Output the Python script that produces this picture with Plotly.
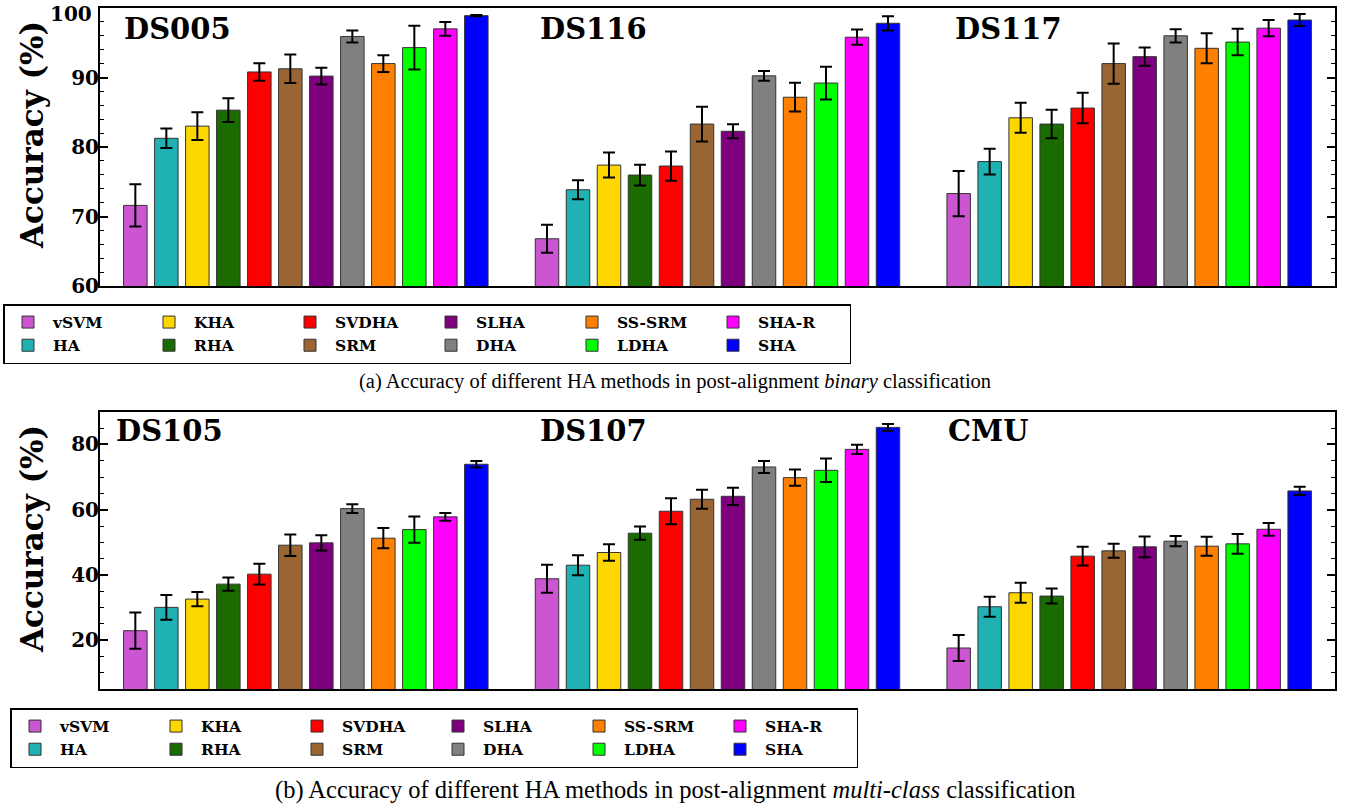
import plotly.graph_objects as go

# ---------------- data ----------------
methods = ["vSVM", "HA", "KHA", "RHA", "SVDHA", "SRM", "SLHA", "DHA",
           "SS-SRM", "LDHA", "SHA-R", "SHA"]
colors = ["#CC55D2", "#20B2B2", "#FFD700", "#1A6B00", "#FF0000", "#996633",
          "#7F007F", "#808080", "#FF8000", "#00FF00", "#FF00FF", "#0000FF"]

binary_datasets = ["DS005", "DS116", "DS117"]
multi_datasets = ["DS105", "DS107", "CMU"]

acc_ds005 = [71.6, 81.25, 83.0, 85.3, 90.8, 91.25, 90.2, 95.9, 92.0, 94.3, 97.0, 98.9]
err_ds005 = [3.05, 1.4, 2.0, 1.7, 1.25, 2.05, 1.2, 0.85, 1.2, 3.15, 1.0, 0.1]
acc_ds116 = [66.8, 73.85, 77.4, 75.96, 77.26, 83.3, 82.26, 90.24, 87.16, 89.2, 95.8, 97.8]
err_ds116 = [2.0, 1.35, 1.8, 1.5, 2.1, 2.5, 1.0, 0.7, 2.07, 2.35, 1.1, 1.03]
acc_ds117 = [73.3, 77.9, 84.2, 83.3, 85.6, 92.0, 93.0, 96.0, 94.2, 95.1, 97.1, 98.27]
err_ds117 = [3.25, 1.85, 2.15, 2.05, 2.2, 2.9, 1.3, 0.95, 2.15, 1.9, 1.18, 0.85]

acc_ds105 = [22.94, 30.08, 32.62, 37.2, 40.26, 49.13, 49.84, 60.34, 51.27, 53.9, 57.8, 73.9]
err_ds105 = [5.55, 3.77, 2.2, 2.0, 3.16, 3.3, 2.35, 1.33, 3.1, 4.0, 1.2, 1.0]
acc_ds107 = [38.84, 43.0, 46.89, 52.8, 59.52, 63.19, 64.1, 73.07, 69.8, 72.05, 78.47, 85.2]
err_ds107 = [4.3, 3.05, 2.55, 2.03, 4.0, 2.9, 2.65, 1.83, 2.5, 3.6, 1.43, 1.0]
acc_cmu = [17.65, 30.28, 34.56, 33.54, 45.77, 47.4, 48.62, 50.35, 48.82, 49.54, 54.0, 65.74]
err_cmu = [4.0, 3.05, 3.05, 2.3, 2.85, 2.15, 3.15, 1.58, 2.9, 3.0, 1.95, 1.27]

binary_ticks = [60, 70, 80, 90]
binary_top_label = "100"
multi_ticks = [20, 40, 60, 80]

binary_acc = [acc_ds005, acc_ds116, acc_ds117]
binary_err = [err_ds005, err_ds116, err_ds117]
multi_acc = [acc_ds105, acc_ds107, acc_cmu]
multi_err = [err_ds105, err_ds107, err_cmu]

# ---------------- figure ----------------
W, H = 1348, 808
ML, MR, MT, MB = 3, 13, 8, 40
PW = W - ML - MR
PH = H - MT - MB


def px_x(p):
    return (p - ML) / PW


def px_y(p):
    return 1 - (p - MT) / PH


fig = go.Figure()

for j, m in enumerate(methods):
    fig.add_trace(go.Bar(
        x=binary_datasets, y=[a[j] for a in binary_acc], name=m,
        marker=dict(color=colors[j], line=dict(color="#333333", width=1)),
        error_y=dict(type="data", array=[e[j] for e in binary_err],
                     color="black", thickness=2, width=6),
        xaxis="x", yaxis="y", legend="legend", legendgroup="a%d" % (j // 2),
    ))
for j, m in enumerate(methods):
    fig.add_trace(go.Bar(
        x=multi_datasets, y=[a[j] for a in multi_acc], name=m,
        marker=dict(color=colors[j], line=dict(color="#333333", width=1)),
        error_y=dict(type="data", array=[e[j] for e in multi_err],
                     color="black", thickness=2, width=6),
        xaxis="x2", yaxis="y2", legend="legend2", legendgroup="b%d" % (j // 2),
    ))

tickfont = dict(family="DejaVu Serif", size=20, color="black", weight="bold")
xdom = [px_x(100), 1.0]

axis_common = dict(showline=True, linecolor="black", linewidth=2, mirror=True,
                   showgrid=False, zeroline=False)
yaxis_common = dict(ticks="inside", ticklen=8, tickwidth=1.5, tickcolor="black",
                    tickfont=tickfont, ticklabelstandoff=-5,
                    showline=True, linecolor="black", linewidth=2, mirror="ticks",
                    showgrid=False, zeroline=False)

fig.update_layout(
    width=W, height=H,
    margin=dict(l=ML, r=MR, t=MT, b=MB),
    paper_bgcolor="white", plot_bgcolor="white",
    template="none",
    barmode="group", bargap=0.0964, bargroupgap=0.242,
    xaxis=dict(domain=xdom, anchor="y", range=[-0.5, 2.5], showticklabels=False,
               ticks="", **axis_common),
    yaxis=dict(domain=[px_y(286), 1.0], anchor="x", range=[60, 100],
               tickmode="array", tickvals=binary_ticks,
               minor=dict(ticks="inside", tick0=60, dtick=2, ticklen=4, tickwidth=1.2,
                          tickcolor="black"),
               **yaxis_common),
    xaxis2=dict(domain=xdom, anchor="y2", range=[-0.5, 2.5], showticklabels=False,
                ticks="", **axis_common),
    yaxis2=dict(domain=[px_y(689.3), px_y(411.7)], anchor="x2", range=[5, 90],
                tickmode="array", tickvals=multi_ticks,
                minor=dict(ticks="inside", tick0=0, dtick=5, ticklen=4, tickwidth=1.2,
                           tickcolor="black"),
                **yaxis_common),
    showlegend=True,
)

legend_common = dict(
    orientation="h", traceorder="grouped", xanchor="left", yanchor="top",
    entrywidth=86, itemwidth=40, tracegroupgap=0,
    font=dict(family="DejaVu Serif", size=15.5, color="black", weight="bold"),
    bordercolor="black", borderwidth=1.5, bgcolor="white",
)
fig.update_layout(
    legend=dict(x=px_x(3), y=px_y(304), **legend_common),
    legend2=dict(x=px_x(10), y=px_y(708), **legend_common),
)

annots = []
# top tick label of the binary panel, nudged inside the figure like the original
annots.append(dict(text=binary_top_label, x=px_x(94), y=px_y(14), xref="paper", yref="paper",
                   xanchor="right", yanchor="middle", showarrow=False, font=tickfont))

label_font = dict(family="DejaVu Serif", size=29, color="black", weight="bold")
for name, lx in zip(binary_datasets, [122, 538, 953]):
    annots.append(dict(text=name, x=px_x(lx), y=px_y(28.5), xref="paper", yref="paper",
                       xanchor="left", yanchor="middle", showarrow=False, font=label_font))
for name, lx in zip(multi_datasets, [114, 538, 946]):
    annots.append(dict(text=name, x=px_x(lx), y=px_y(431), xref="paper", yref="paper",
                       xanchor="left", yanchor="middle", showarrow=False, font=label_font))

title_font = dict(family="DejaVu Serif", size=31, color="black", weight="bold")
for cy in [135, 539]:
    annots.append(dict(text="Accuracy (%)", x=px_x(32), y=px_y(cy), xref="paper",
                       yref="paper", xanchor="center", yanchor="middle", textangle=-90,
                       showarrow=False, font=title_font))

annots.append(dict(text="(a) Accuracy of different HA methods in post-alignment <i>binary</i> classification",
                   x=px_x(674.5), y=px_y(381), xref="paper", yref="paper",
                   xanchor="center", yanchor="middle", showarrow=False,
                   font=dict(family="Liberation Serif", size=20.5, color="black")))
annots.append(dict(text="(b) Accuracy of different HA methods in post-alignment <i>multi-class</i> classification",
                   x=px_x(674.5), y=px_y(790), xref="paper", yref="paper",
                   xanchor="center", yanchor="middle", showarrow=False,
                   font=dict(family="Liberation Serif", size=24.5, color="black")))
fig.update_layout(annotations=annots)

fig.write_html("out.html")
